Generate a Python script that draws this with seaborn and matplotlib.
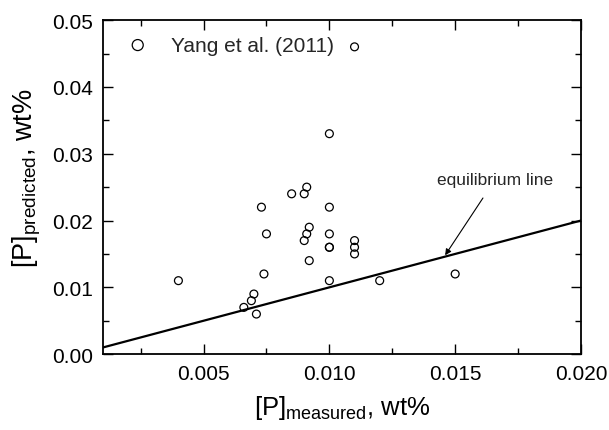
import matplotlib
matplotlib.use("Agg")
import matplotlib.pyplot as plt
import seaborn as sns
import pandas as pd
from matplotlib.ticker import MultipleLocator, FormatStrFormatter

# Data
measured = [0.0040, 0.0066, 0.0069, 0.0070, 0.0071, 0.0073, 0.0074, 0.0075,
            0.0085, 0.0090, 0.0091, 0.0092, 0.0091, 0.0090, 0.0092,
            0.0100, 0.0100, 0.0100, 0.0100, 0.0100, 0.0100,
            0.0110, 0.0110, 0.0110, 0.0110, 0.0120, 0.0150]
predicted = [0.011, 0.007, 0.008, 0.009, 0.006, 0.022, 0.012, 0.018,
             0.024, 0.024, 0.025, 0.019, 0.018, 0.017, 0.014,
             0.033, 0.022, 0.018, 0.016, 0.016, 0.011,
             0.017, 0.016, 0.015, 0.046, 0.011, 0.012]
line_x = [0.001, 0.020]
line_y = [0.001, 0.020]
series_label = "Yang et al. (2011)"
xticks = [0.005, 0.010, 0.015, 0.020]
yticks = [0.00, 0.01, 0.02, 0.03, 0.04, 0.05]

df = pd.DataFrame({"measured": measured, "predicted": predicted})
line_df = pd.DataFrame({"x": line_x, "y": line_y})

sns.set_style("ticks")
plt.rcParams["font.family"] = ["Liberation Sans", "DejaVu Sans"]
plt.rcParams["mathtext.fontset"] = "custom"
plt.rcParams["mathtext.rm"] = "Liberation Sans"

fig = plt.figure(figsize=(6.09, 4.31), dpi=100)
ax = fig.add_axes([0.169, 0.176, 0.785, 0.775])

sns.lineplot(data=line_df, x="x", y="y", ax=ax, color="black", lw=1.6,
             legend=False)
sns.scatterplot(data=df, x="measured", y="predicted", ax=ax, marker="o",
                s=32, color="black", linewidth=0.9, label=series_label)
pts = ax.collections[-1]
pts.set_facecolor("none")
pts.set_edgecolor("black")

ax.set_xlim(0.001, 0.020)
ax.set_ylim(0.0, 0.05)
ax.set_xticks(xticks)
ax.set_yticks(yticks)
ax.xaxis.set_minor_locator(MultipleLocator(0.0025))
ax.yaxis.set_minor_locator(MultipleLocator(0.005))
ax.xaxis.set_major_formatter(FormatStrFormatter("%.3f"))
ax.yaxis.set_major_formatter(FormatStrFormatter("%.2f"))
ax.tick_params(which="both", direction="in", top=True, right=True,
               width=1.0, color="black")
ax.tick_params(which="major", length=7, labelsize=15, pad=7, labelcolor="black")
ax.tick_params(which="minor", length=4)
for sp in ax.spines.values():
    sp.set_visible(True)
    sp.set_linewidth(1.3)
    sp.set_color("black")

ax.set_xlabel(r"$\mathregular{[P]_{measured}}$, wt%", fontsize=18.5,
              labelpad=7, color="black")
ax.set_ylabel(r"$\mathregular{[P]_{predicted}}$, wt%", fontsize=19.5,
              color="black")
ax.yaxis.set_label_coords(-0.125, 0.53)

ax.annotate("equilibrium line", xy=(0.0146, 0.0148), xytext=(0.0166, 0.0262),
            ha="center", va="center", fontsize=12.5,
            arrowprops=dict(arrowstyle="-|>", color="black", lw=0.8,
                            shrinkA=7, shrinkB=0, mutation_scale=9))

leg = ax.legend(loc="upper left", frameon=False, fontsize=15,
                markerscale=1.4, handletextpad=0.6,
                bbox_to_anchor=(-0.01, 1.01))
for h in leg.legend_handles:
    try:
        h.set_facecolor("none")
        h.set_edgecolor("black")
    except AttributeError:
        h.set_markerfacecolor("none")
        h.set_markeredgecolor("black")

fig.savefig("out.png", dpi=100)
